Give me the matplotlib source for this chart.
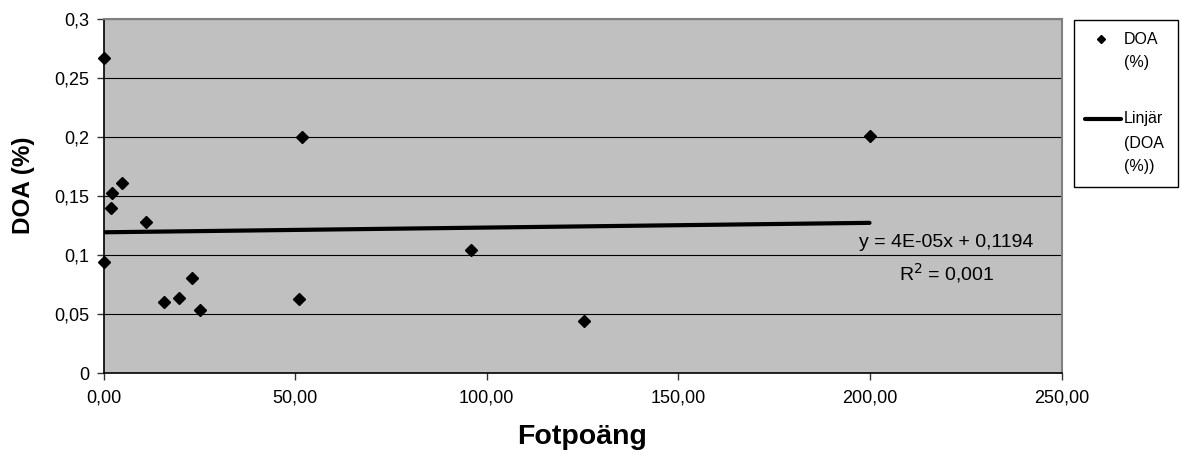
# Fotpoäng vs DOA scatter with linear trend
import numpy as np
import matplotlib.pyplot as plt
from matplotlib.ticker import FuncFormatter, MultipleLocator
from matplotlib.lines import Line2D
from matplotlib.patches import Rectangle

plt.rcParams['font.family'] = ['Liberation Sans', 'DejaVu Sans']

# Data
fotpoang = [0.0, 51.8, 4.8, 2.2, 1.9, 11.0, 0.0, 23.1, 15.9, 19.6, 25.1, 51.0, 96.0, 125.5, 199.9]
doa = [0.267, 0.200, 0.161, 0.153, 0.140, 0.128, 0.094, 0.081, 0.060, 0.064, 0.054, 0.063, 0.104, 0.044, 0.201]

# Trend line (as stated in the equation label)
slope = 4e-05
intercept = 0.1194
r2 = 0.001

fig = plt.figure(figsize=(11.81, 4.59), dpi=100)
W, H = 1181, 459
ax = fig.add_axes([103.5 / W, 1 - 373.3 / H, (1061.5 - 103.5) / W, (373.3 - 19) / H])
ax.set_facecolor('#C0C0C0')

ax.set_xlim(0, 250)
ax.set_ylim(0, 0.3)
ax.xaxis.set_major_locator(MultipleLocator(50))
ax.yaxis.set_major_locator(MultipleLocator(0.05))
ax.xaxis.set_major_formatter(FuncFormatter(lambda v, p: f'{v:.2f}'.replace('.', ',')))
ax.yaxis.set_major_formatter(FuncFormatter(lambda v, p: ('%g' % round(v, 2)).replace('.', ',')))

ax.grid(axis='y', color='black', lw=0.8)
ax.set_axisbelow(True)

for s in ['top', 'right']:
    ax.spines[s].set_color('#808080')
    ax.spines[s].set_linewidth(1.5)
for s in ['left', 'bottom']:
    ax.spines[s].set_color('black')
    ax.spines[s].set_linewidth(1.2)

ax.tick_params(axis='both', direction='out', length=5, width=1, colors='#333333',
               labelcolor='black', labelsize=13)
ax.tick_params(axis='x', pad=7)
ax.tick_params(axis='y', pad=5)

# Scatter
ax.plot(fotpoang, doa, 'D', color='black', ms=6, ls='none', clip_on=False, zorder=4)

# Trend
xt = np.array([0, max(fotpoang)])
ax.plot(xt, slope * xt + intercept, color='black', lw=3, solid_capstyle='round', zorder=3)

ax.text(220, 0.1104, 'y = 4E-05x + 0,1194', ha='center', va='center', fontsize=14)
ax.text(220, 0.0850, 'R$^2$ = 0,001', ha='center', va='center', fontsize=14)

ax.set_xlabel('Fotpoäng', fontsize=20.5, fontweight='bold', labelpad=12)
ax.set_ylabel('DOA (%)', fontsize=17.5, fontweight='bold')
ax.yaxis.set_label_coords(-0.0715, 0.531)

# Legend box
def fx(px):
    return px / W

def fy(py):
    return 1 - py / H

fig.add_artist(Rectangle((fx(1074), fy(187)), fx(1178) - fx(1074), fy(20) - fy(187),
                         transform=fig.transFigure, facecolor='white', edgecolor='black', lw=1))
fig.add_artist(Line2D([fx(1101)], [fy(39)], marker='D', ms=4.5, color='black',
                      transform=fig.transFigure))
fig.text(fx(1124), fy(39), 'DOA', ha='left', va='center', fontsize=11.5)
fig.text(fx(1124), fy(63), '(%)', ha='left', va='center', fontsize=11.5)
fig.add_artist(Line2D([fx(1085), fx(1121)], [fy(119), fy(119)], color='black', lw=3,
                      solid_capstyle='round', transform=fig.transFigure))
fig.text(fx(1124), fy(119), 'Linjär', ha='left', va='center', fontsize=11.5)
fig.text(fx(1124), fy(143), '(DOA', ha='left', va='center', fontsize=11.5)
fig.text(fx(1124), fy(167), '(%))', ha='left', va='center', fontsize=11.5)

fig.savefig('out.png', dpi=100, facecolor='white')
